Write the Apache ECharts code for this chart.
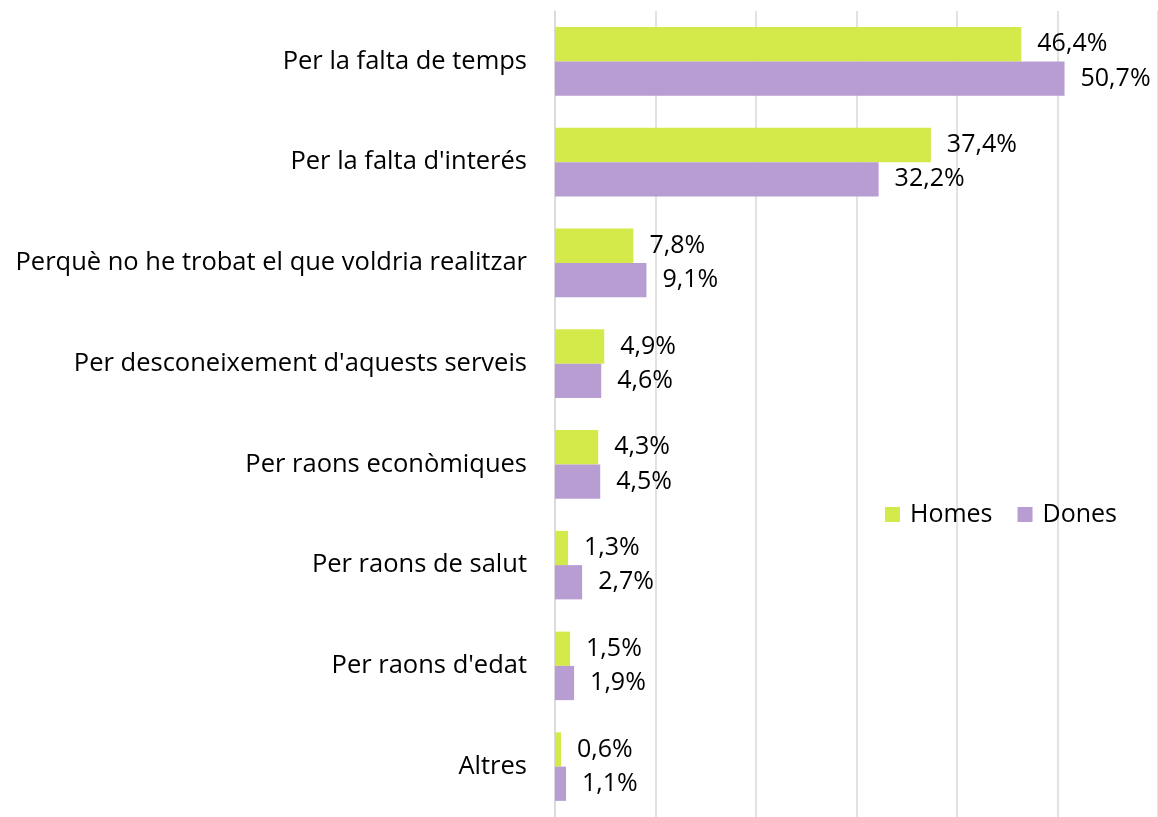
<!DOCTYPE html>
<html>
<head>
<meta charset="utf-8">
<script src="https://cdn.jsdelivr.net/npm/echarts@6/dist/echarts.min.js"></script>
<style>
  html, body { margin: 0; padding: 0; background: #fff; }
  #chart { width: 1158px; height: 817px; }
</style>
</head>
<body>
<div id="chart"></div>
<script>
  var categories = [
    'Per la falta de temps',
    "Per la falta d'interés",
    'Perquè no he trobat el que voldria realitzar',
    "Per desconeixement d'aquests serveis",
    'Per raons econòmiques',
    'Per raons de salut',
    "Per raons d'edat",
    'Altres'
  ]
  var homes = [46.4, 37.4, 7.8, 4.9, 4.3, 1.3, 1.5, 0.6]
  var dones = [50.7, 32.2, 9.1, 4.6, 4.5, 2.7, 1.9, 1.1]

  var font = '"Open Sans", "Noto Sans", sans-serif'

  function pct(p) {
    return p.value.toFixed(1).replace('.', ',') + '%'
  }

  var chart = echarts.init(document.getElementById('chart'))

  chart.setOption({
    animation: false,
    textStyle: { fontFamily: font },
    legend: {
      data: ['Homes', 'Dones'],
      right: 36,
      top: 497,
      itemWidth: 15,
      itemHeight: 15,
      itemGap: 25,
      icon: 'rect',
      textStyle: { fontSize: 25, color: '#000', fontFamily: font, padding: [0, 0, 0, 5] }
    },
    grid: {
      top: 11,
      bottom: -5,
      left: 555,
      right: 0
    },
    xAxis: {
      type: 'value',
      min: 0,
      max: 60,
      interval: 10,
      axisLabel: { show: false },
      axisLine: { show: false },
      axisTick: { show: false },
      splitLine: { lineStyle: { color: '#d9d9d9', width: 1.5 } }
    },
    yAxis: {
      type: 'category',
      inverse: true,
      data: categories,
      axisTick: { show: false },
      axisLine: { lineStyle: { color: '#d9d9d9', width: 1.5 } },
      axisLabel: { fontSize: 25.5, color: '#000', margin: 28, fontFamily: font }
    },
    series: [
      {
        name: 'Homes',
        type: 'bar',
        data: homes,
        barGap: '0%',
        barCategoryGap: '32%',
        itemStyle: { color: '#d4ea4b' },
        label: {
          show: true,
          position: 'right',
          distance: 16,
          formatter: pct,
          fontSize: 25,
          color: '#000',
          fontFamily: font
        }
      },
      {
        name: 'Dones',
        type: 'bar',
        data: dones,
        itemStyle: { color: '#b89dd3' },
        label: {
          show: true,
          position: 'right',
          distance: 16,
          formatter: pct,
          fontSize: 25,
          color: '#000',
          fontFamily: font
        }
      }
    ]
  })
</script>
</body>
</html>
